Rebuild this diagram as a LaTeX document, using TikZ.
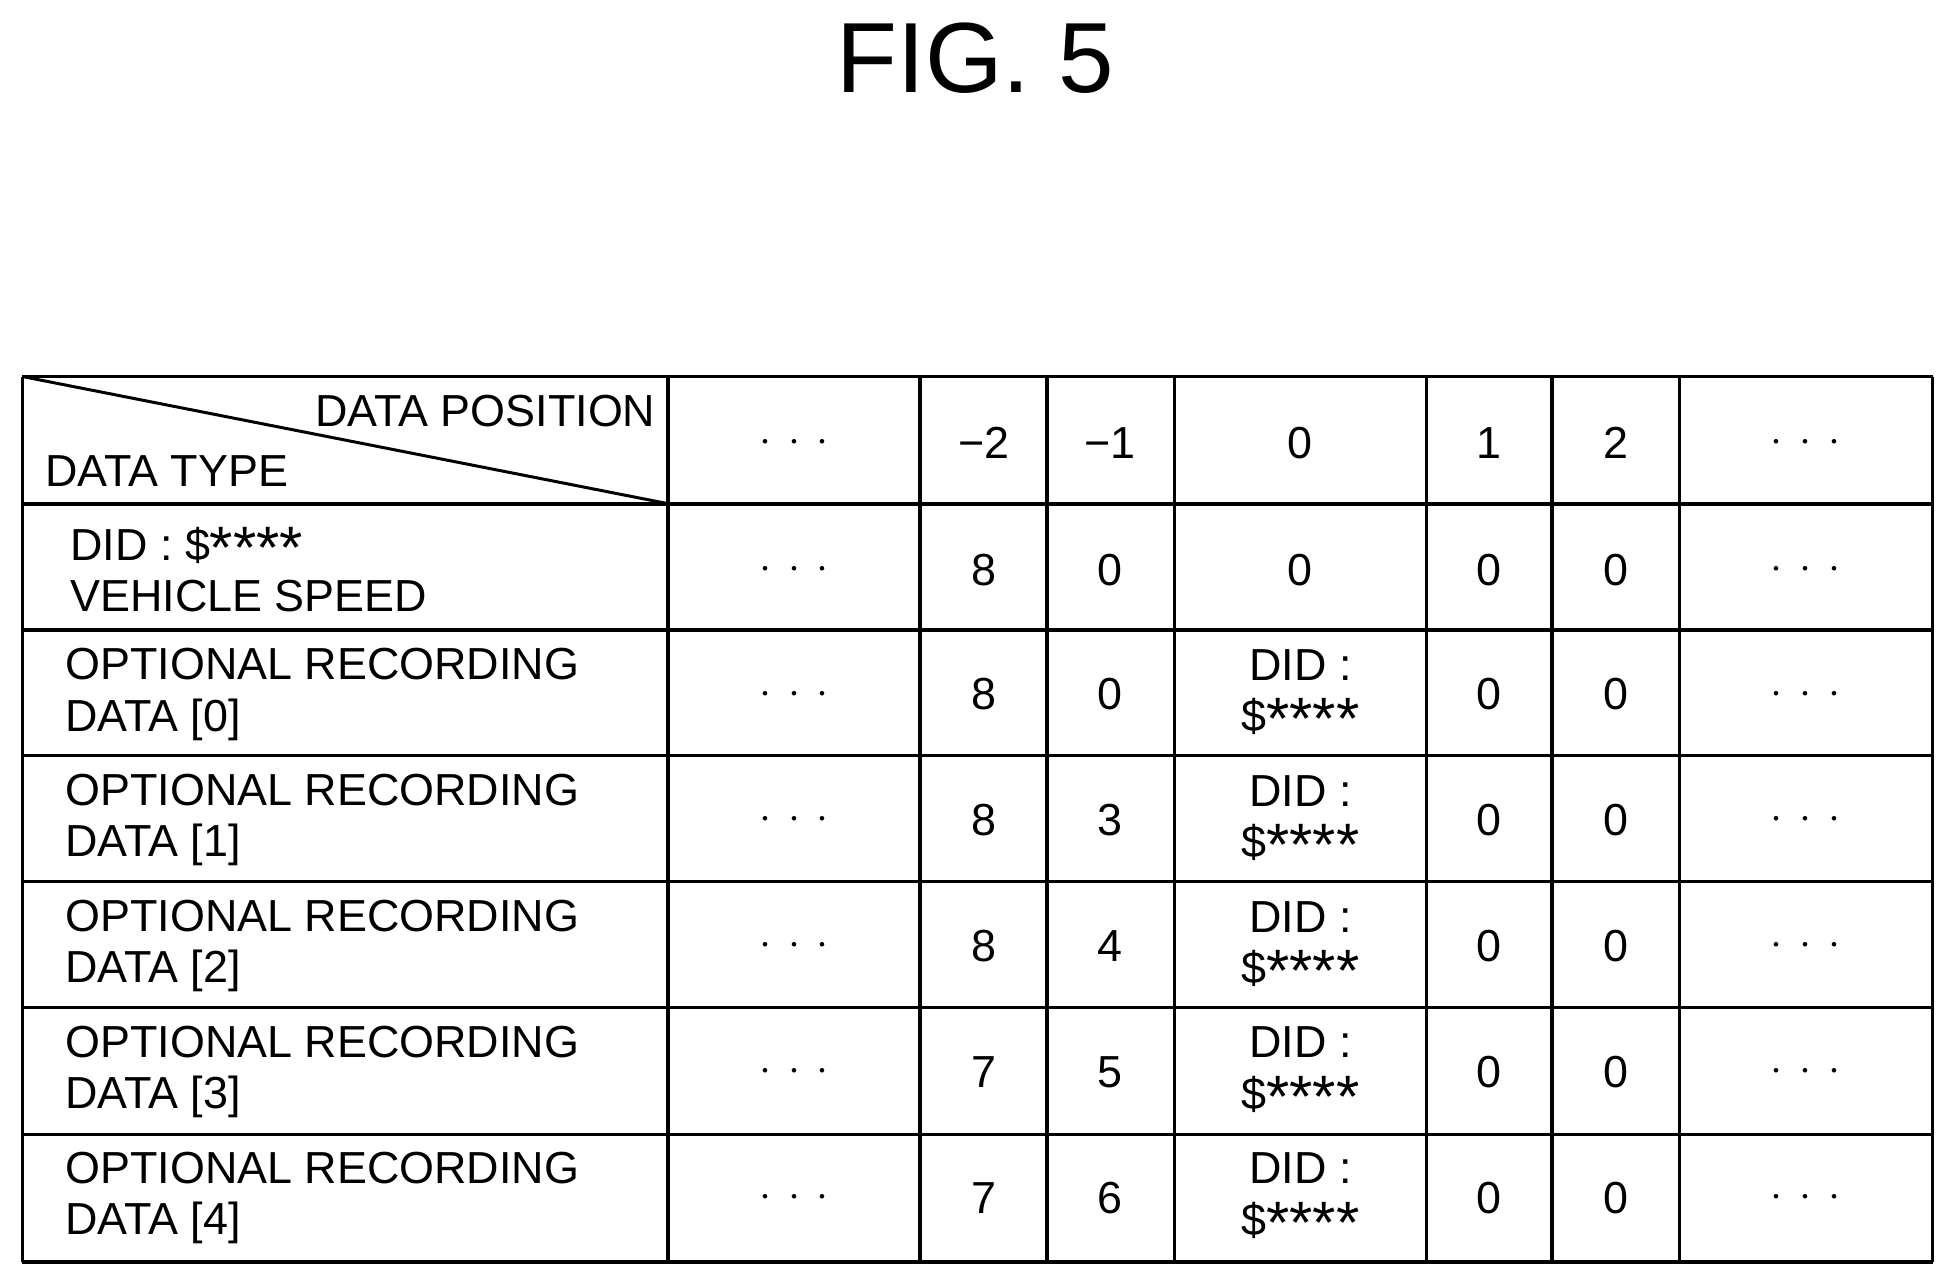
\documentclass[tikz,border=0pt]{standalone}
\usepackage{fontspec}
\setmainfont{Liberation Sans}
\newcommand{\stars}{\raisebox{-0.35ex}{\fontsize{24}{20}\selectfont****}}
\begin{document}
\begin{tikzpicture}[x=0.5pt,y=-0.5pt,
  grid/.style={line width=1.5pt,black},
  txt/.style={font=\fontsize{18}{20.5}\selectfont,inner sep=0pt},
  lbl/.style={txt,align=left,anchor=west}]
\useasboundingbox (0,0) rectangle (1568,1031);
\node[font=\fontsize{40}{44}\selectfont] (title) at (782,47) {FIG. 5};
% grid
\foreach \x in {18,536,738,840,942,1144,1245,1347,1550} \draw[grid] (\x,302) -- (\x,1012);
\foreach \y in {302,404,505,606,707,808,910,1012} \draw[grid] (18,\y) -- (1550,\y);
\coordinate (d1) at (18,302); \coordinate (d2) at (536,404);
\draw[line width=1.2pt] (d1) -- (d2);
\node[txt,anchor=east] (dp) at (526,330) {DATA POSITION};
\node[txt,anchor=west] (dt) at (36,378) {DATA TYPE};
% header
\def\dd{$\cdot\,\cdot\,\cdot$}
\foreach \c/\t [count=\i] in {637/\dd,789/\textminus2,890/\textminus1,1043/0,1194/1,1296/2,1448/\dd}
  \node[txt] (h\i) at (\c,355) {\t};
% row 1
\node[lbl] (r1) at (56,457) {DID : \$\stars\\VEHICLE SPEED};
\foreach \c/\t [count=\i] in {637/\dd,789/8,890/0,1043/0,1194/0,1296/0,1448/\dd}
  \node[txt] (a\i) at (\c,457) {\t};
% optional rows
\foreach \k/\y/\m/\n in {0/557/8/0,1/658/8/3,2/759/8/4,3/860/7/5,4/961/7/6}{
  \node[lbl] (L\k) at (52,\y) {OPTIONAL RECORDING\\DATA [\k]};
  \node[txt] (e\k) at (637,\y) {\dd};
  \node[txt] (m\k) at (789,\y) {\m};
  \node[txt] (n\k) at (890,\y) {\n};
  \node[txt,align=center] (z\k) at (1043,\y) {DID :\\\$\stars};
  \node[txt] (p\k) at (1194,\y) {0};
  \node[txt] (q\k) at (1296,\y) {0};
  \node[txt] (f\k) at (1448,\y) {\dd};
}
\end{tikzpicture}
\end{document}
